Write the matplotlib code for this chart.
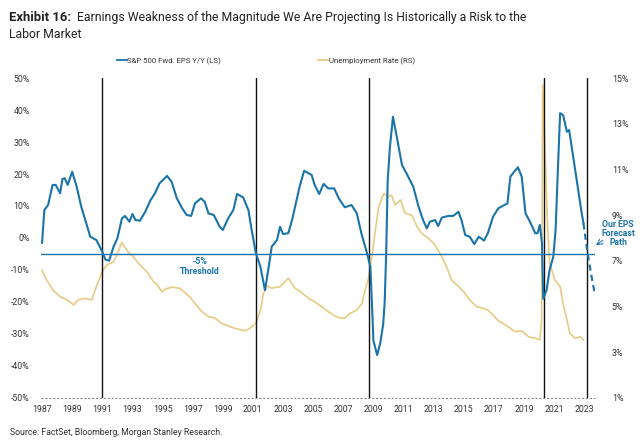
import matplotlib
matplotlib.use("Agg")
import matplotlib.pyplot as plt

# S&P 500 forward EPS, year-over-year (%), left axis
eps_year = [1987.0, 1987.15, 1987.4, 1987.7, 1987.9, 1988.2, 1988.35, 1988.5, 1988.7, 1989.0,
            1989.3, 1989.6, 1990.0, 1990.2, 1990.6, 1991.0, 1991.2, 1991.45, 1991.75, 1992.0,
            1992.3, 1992.5, 1992.8, 1993.0, 1993.2, 1993.5, 1993.85, 1994.2, 1994.5, 1994.8,
            1995.3, 1995.6, 1995.95, 1996.3, 1996.6, 1996.9, 1997.15, 1997.55, 1997.8, 1998.05,
            1998.4, 1998.8, 1999.0, 1999.35, 1999.7, 1999.95, 2000.35, 2000.7, 2000.9, 2001.2,
            2001.5, 2001.8, 2002.05, 2002.25, 2002.6, 2002.8, 2003.0, 2003.35, 2003.6, 2003.9,
            2004.1, 2004.4, 2004.7, 2004.9, 2005.1, 2005.4, 2005.7, 2006.0, 2006.4, 2006.7,
            2007.1, 2007.55, 2007.9, 2008.2, 2008.55, 2008.8, 2008.9, 2009.0, 2009.25, 2009.45,
            2009.65, 2009.75, 2009.85, 2009.95, 2010.1, 2010.3, 2010.55, 2010.9, 2011.2, 2011.65,
            2012.0, 2012.3, 2012.55, 2012.75, 2013.1, 2013.3, 2013.55, 2014.0, 2014.3, 2014.65,
            2014.85, 2015.1, 2015.4, 2015.7, 2016.0, 2016.35, 2016.6, 2016.95, 2017.3, 2017.5,
            2017.9, 2018.1, 2018.35, 2018.6, 2018.85, 2019.1, 2019.4, 2019.75, 2019.9, 2020.05,
            2020.2, 2020.28, 2020.5, 2020.7, 2020.95, 2021.1, 2021.25, 2021.4, 2021.6, 2021.85,
            2022.0, 2022.2, 2022.5, 2022.8, 2022.95]
eps_val = [-1.5, 8.75, 10.3, 16.6, 16.6, 14.0, 18.4, 18.7, 16.6, 20.7,
           16.0, 9.8, 3.5, 0.4, -0.6, -4.3, -6.7, -7.1, -2.7, -0.1,
           6.1, 6.9, 5.1, 7.5, 5.6, 5.4, 8.2, 11.8, 14.0, 17.1,
           19.4, 17.6, 12.4, 9.3, 7.2, 6.9, 10.8, 12.4, 11.3, 7.7,
           7.2, 3.5, 2.5, 6.1, 8.75, 13.75, 12.7, 8.75, 3.0, -4.8,
           -9.0, -16.3, -9.0, -2.7, -0.6, 3.5, 1.25, 1.5, 5.6, 11.9,
           16.0, 21.0, 20.2, 19.7, 16.6, 13.75, 16.9, 15.5, 15.5, 12.4,
           9.6, 10.3, 7.7, 1.5, -4.3, -9.0, -20.0, -32.0, -36.6, -33.0,
           -27.0, -20.0, -4.8, 18.0, 28.5, 37.9, 31.7, 22.8, 20.2, 16.0,
           9.8, 5.6, 3.0, 5.1, 5.6, 3.75, 6.4, 6.9, 6.9, 8.2,
           5.6, 0.9, 0.4, -1.9, 0.4, -0.8, 1.5, 6.7, 9.3, 9.8,
           10.8, 19.2, 20.7, 22.1, 19.2, 7.7, 5.1, 1.5, 1.5, 4.1,
           -1.7, -19.0, -16.3, -10.0, -5.8, 2.5, 21.25, 39.0, 38.4, 33.2,
           33.75, 27.5, 18.1, 8.75, 4.6]

# forecast path (dashed)
fc_year = [2022.95, 2023.2, 2023.45, 2023.7]
fc_val = [4.6, -4.0, -11.0, -17.5]

# unemployment rate (%), right axis
ur_year = [1987.0, 1987.3, 1987.75, 1988.2, 1988.65, 1989.1, 1989.4, 1989.85, 1990.3, 1990.6,
           1991.0, 1991.3, 1991.75, 1992.05, 1992.3, 1992.7, 1993.05, 1993.5, 1993.95, 1994.4,
           1994.6, 1994.95, 1995.15, 1995.6, 1996.15, 1996.5, 1996.8, 1997.15, 1997.6, 1998.05,
           1998.5, 1998.9, 1999.5, 2000.05, 2000.5, 2000.8, 2001.2, 2001.5, 2001.7, 2001.95,
           2002.25, 2002.8, 2003.35, 2003.8, 2004.25, 2004.7, 2005.1, 2005.55, 2006.0, 2006.45,
           2006.8, 2007.1, 2007.45, 2007.9, 2008.25, 2008.45, 2008.7, 2008.9, 2009.1, 2009.35,
           2009.7, 2010.0, 2010.2, 2010.45, 2010.8, 2011.1, 2011.55, 2011.9, 2012.2, 2012.65,
           2013.0, 2013.3, 2013.55, 2013.9, 2014.2, 2014.55, 2015.0, 2015.4, 2015.85, 2016.3,
           2016.6, 2016.95, 2017.35, 2017.5, 2017.95, 2018.4, 2018.85, 2019.3, 2019.75, 2020.05,
           2020.17, 2020.25, 2020.4, 2020.55, 2020.7, 2021.05, 2021.4, 2021.6, 2021.85, 2022.05,
           2022.4, 2022.75, 2022.95]
ur_val = [6.6, 6.16, 5.7, 5.43, 5.3, 5.07, 5.29, 5.36, 5.29, 5.87,
          6.53, 6.82, 6.96, 7.4, 7.8, 7.4, 7.18, 6.82, 6.53, 6.09,
          6.0, 5.65, 5.75, 5.85, 5.8, 5.6, 5.43, 5.14, 4.78, 4.56,
          4.49, 4.27, 4.12, 4.0, 3.94, 4.05, 4.27, 4.85, 5.58, 5.9,
          5.8, 5.87, 6.24, 5.8, 5.6, 5.36, 5.21, 5.0, 4.78, 4.59,
          4.49, 4.49, 4.7, 4.85, 5.14, 5.72, 6.31, 7.18, 8.2, 9.37,
          9.95, 9.8, 9.88, 9.44, 9.66, 9.08, 9.0, 8.49, 8.2, 7.99,
          7.77, 7.47, 7.18, 6.67, 6.16, 5.94, 5.65, 5.29, 5.0, 4.92,
          4.85, 4.63, 4.34, 4.3, 4.12, 3.9, 3.94, 3.68, 3.61, 3.54,
          4.4, 14.7, 11.7, 8.8, 6.9, 6.16, 5.87, 5.14, 4.41, 3.83,
          3.61, 3.68, 3.54]

recessions = [1991.0, 2001.2, 2008.7, 2020.3, 2023.2]
threshold = -5

left_ticks = list(range(-50, 51, 10))
right_ticks = list(range(1, 16, 2))
year_ticks = list(range(1987, 2024, 2))

blue = '#1a74a9'
gold = '#e8ca84'
grey = '#333333'

plt.rcParams['font.family'] = ['Roboto', 'DejaVu Sans']

fig = plt.figure(figsize=(6.44, 4.40), dpi=100)
ax = fig.add_axes([0.0637, 0.0955, 0.8603, 0.7272])
ax2 = ax.twinx()
ax.set_zorder(ax2.get_zorder() + 1)
ax.patch.set_visible(False)

ax2.plot(ur_year, ur_val, color=gold, lw=1.2)
ax.plot(eps_year, eps_val, color=blue, lw=1.5)
ax.plot(fc_year, fc_val, color=blue, lw=1.5, ls=(0, (3, 2)))

for r in recessions:
    ax.axvline(r, color='#111111', lw=1.0, zorder=0)
ax.axhline(threshold, color=blue, lw=1.0)
ax.axhline(-50, color='#888888', lw=0.8, ls=(0, (2, 1.5)), clip_on=False)

ax.set_xlim(1986.93, 2023.72)
ax.set_ylim(-50, 50)
ax2.set_ylim(1, 15)
ax.set_xticks(year_ticks)
ax.set_yticks(left_ticks)
ax.set_yticklabels([f'{t}%' for t in left_ticks])
ax2.set_yticks(right_ticks)
ax2.set_yticklabels([f'{t}%' for t in right_ticks])

for a in (ax, ax2):
    for s in a.spines.values():
        s.set_visible(False)
ax.tick_params(axis='both', length=0, labelsize=6.3, colors=grey)
ax.tick_params(axis='y', pad=8)
ax.tick_params(axis='x', pad=5)
ax2.tick_params(axis='y', length=0, labelsize=6.3, colors=grey, pad=12)

ax.text(1997.5, -6.0, '-5%\nThreshold', color=blue, fontsize=6.3, fontweight='bold',
        ha='center', va='top', linespacing=1.05)
fig.text(618 / 644, 1 - 233 / 440, 'Our EPS\nForecast\nPath', color=blue, fontsize=6.2,
         fontweight='bold', ha='center', va='center', linespacing=1.0)
ax.annotate('', xy=(2023.62, -2.8), xytext=(2024.38, -0.3), annotation_clip=False,
            arrowprops=dict(arrowstyle='->', color=blue, lw=0.8, ls=(0, (2, 1))))

# legend
handles = [plt.Line2D([], [], color=blue, lw=1.3), plt.Line2D([], [], color=gold, lw=1.3)]
fig.legend(handles, ['S&P 500 Fwd. EPS Y/Y (LS)', 'Unemployment Rate (RS)'],
           loc='center', bbox_to_anchor=(266 / 644, 1 - 61 / 440), ncol=2, frameon=False,
           fontsize=5.6, handlelength=1.3, handletextpad=0.1, columnspacing=12.5,
           labelcolor=grey)

# title
t1 = fig.text(9 / 644, 1 - 21 / 440, 'Exhibit 16:', fontsize=9.4, fontweight='bold',
              color='#222222', va='baseline')
ax.annotate('  Earnings Weakness of the Magnitude We Are Projecting Is Historically a Risk to the',
            xy=(1, 0), xycoords=t1, va='bottom', fontsize=8.8, color='#222222',
            annotation_clip=False)
fig.text(9 / 644, 1 - 38 / 440, 'Labor Market', fontsize=8.8, color='#222222', va='baseline')

fig.text(10 / 644, 1 - 435 / 440, 'Source: FactSet, Bloomberg, Morgan Stanley Research.',
         fontsize=6.3, color=grey, va='baseline')

fig.savefig('out.png', dpi=100)
